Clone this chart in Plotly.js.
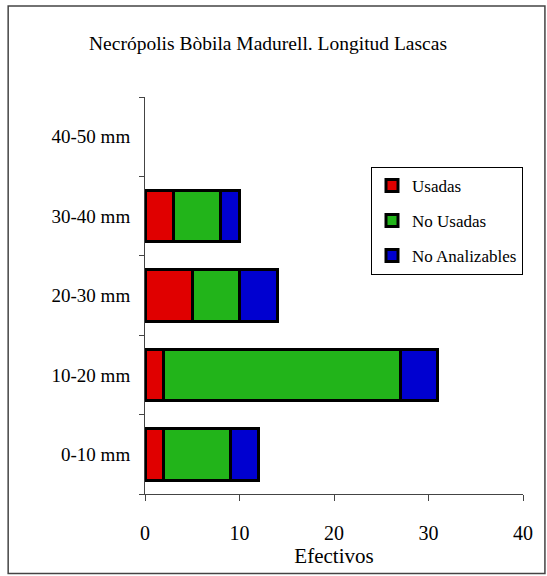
<!DOCTYPE html>
<html><head><meta charset="utf-8">
<script src="https://cdn.plot.ly/plotly-3.0.1.min.js"></script>
<style>html,body{margin:0;padding:0;background:#fff}</style>
</head><body>
<div id="chart" style="width:547px;height:576px"></div>
<script>
const categories = ["0-10 mm", "10-20 mm", "20-30 mm", "30-40 mm", "40-50 mm"];
const usadas = [2, 2, 5, 3, 0];
const noUsadas = [7, 25, 5, 5, 0];
const noAnalizables = [3, 4, 4, 2, 0];
const xTicks = [0, 10, 20, 30, 40];

const FONT = "Liberation Serif, Times New Roman, serif";
function tr(name, vals, color) {
  return {type: "bar", orientation: "h", name: name, y: categories, x: vals,
    legendgroup: name,
    marker: {color: color, line: {color: "#000", width: vals.map(v => v > 0 ? 3 : 0)}},
    hoverinfo: "x+name"};
}
const data = [
  tr("Usadas", usadas, "#e00000"),
  tr("No Usadas", noUsadas, "#22b41a"),
  tr("No Analizables", noAnalizables, "#0000d0")
];
const layout = {
  width: 547, height: 576,
  margin: {l: 145, r: 24, t: 97, b: 82},
  paper_bgcolor: "#fff", plot_bgcolor: "#fff",
  barmode: "stack", bargap: 0.35,
  font: {family: FONT, color: "#000", size: 18},
  title: {text: "Necrópolis Bòbila Madurell. Longitud Lascas", font: {family: FONT, size: 19.5, color: "#000"},
    x: 0.49, xanchor: "center", xref: "container", y: 0.925, yanchor: "middle"},
  xaxis: {range: [0, 40], tickvals: xTicks, ticks: "outside", ticklen: 6, tickcolor: "#444",
    showline: true, linecolor: "#444", linewidth: 1, showgrid: false, zeroline: false,
    ticklabelstandoff: 15, tickfont: {size: 20},
    title: {text: "Efectivos", font: {size: 21}, standoff: 0}},
  yaxis: {type: "category", categoryorder: "array", categoryarray: categories,
    ticks: "outside", tickson: "boundaries", ticklen: 5, tickcolor: "#444",
    showline: true, linecolor: "#444", linewidth: 1, showgrid: false, zeroline: false,
    ticklabelstandoff: 10, tickfont: {size: 19}},
  legend: {x: 1.0, y: 0.824, xanchor: "right", yanchor: "top", bgcolor: "#fff",
    bordercolor: "#000", borderwidth: 1, traceorder: "grouped",
    font: {family: FONT, size: 17}, itemwidth: 30, tracegroupgap: 10},
  shapes: [{type: "rect", xref: "paper", yref: "paper", x0: -0.362, x1: 1.058, y0: -0.2, y1: 1.229,
    line: {color: "#444", width: 1.5}, fillcolor: "rgba(0,0,0,0)", layer: "below"}],
  showlegend: true
};
Plotly.newPlot("chart", data, layout, {displayModeBar: false, staticPlot: true});
</script>
</body></html>
